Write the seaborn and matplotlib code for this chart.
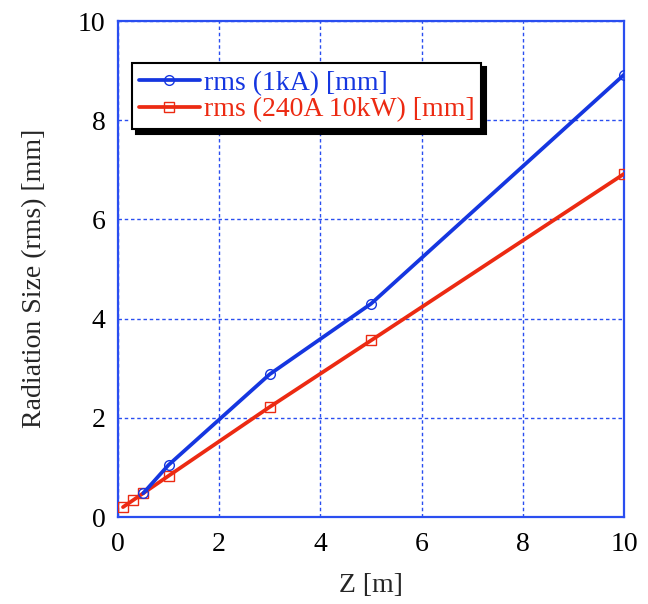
import matplotlib
matplotlib.use("Agg")
import matplotlib.pyplot as plt
import seaborn as sns
import pandas as pd

# Radiation size versus distance for two operating modes
z_1ka = [0.5, 1, 3, 5, 10]
rms_1ka = [0.48, 1.05, 2.88, 4.30, 8.92]

z_240a = [0.1, 0.3, 0.5, 1, 3, 5, 10]
rms_240a = [0.20, 0.34, 0.48, 0.83, 2.22, 3.56, 6.92]

label_1ka = "rms (1kA) [mm]"
label_240a = "rms (240A 10kW) [mm]"

x_ticks = [0, 2, 4, 6, 8, 10]
y_ticks = [0, 2, 4, 6, 8, 10]

blue = "#1536e0"
red = "#ec2a12"
grid_blue = "#2a4ef0"

sns.set_style("white")
plt.rcParams["font.family"] = ["Liberation Serif", "DejaVu Serif"]

fig = plt.figure(figsize=(6.48, 6.04), dpi=100)
ax = fig.add_axes([0.182, 0.144, 0.781, 0.821])

df_1ka = pd.DataFrame({"Z": z_1ka, "rms": rms_1ka})
df_240a = pd.DataFrame({"Z": z_240a, "rms": rms_240a})

sns.lineplot(data=df_240a, x="Z", y="rms", ax=ax, color=red, lw=2.7,
             marker="s", ms=7, mfc="none", mec=red, mew=1.0,
             label=label_240a, zorder=3)
sns.lineplot(data=df_1ka, x="Z", y="rms", ax=ax, color=blue, lw=2.7,
             marker="o", ms=7, mfc="none", mec=blue, mew=1.0,
             label=label_1ka, zorder=4)

ax.set_xlim(0, 10)
ax.set_ylim(0, 10)
ax.set_xticks(x_ticks)
ax.set_yticks(y_ticks)
ax.set_xticklabels([str(t) for t in x_ticks])
ax.set_yticklabels([str(t) for t in y_ticks])

ax.grid(True, color=grid_blue, linestyle=(0, (2.5, 2)), linewidth=1.0)
for side in ["left", "right", "top", "bottom"]:
    ax.spines[side].set_visible(True)
    ax.spines[side].set_color(grid_blue)
    ax.spines[side].set_linewidth(1.6)

ax.tick_params(axis="both", direction="in", length=7, width=1.2,
               color=grid_blue, labelsize=20, labelcolor="black")
ax.tick_params(axis="x", pad=11)
ax.tick_params(axis="y", pad=9)

ax.set_xlabel("Z [m]", fontsize=20, labelpad=11)
ax.set_ylabel("Radiation Size (rms) [mm]", fontsize=20)
ax.yaxis.set_label_coords(-0.140, 0.482)

handles, labels = ax.get_legend_handles_labels()
order = [labels.index(label_1ka), labels.index(label_240a)]
leg = ax.legend([handles[i] for i in order], [labels[i] for i in order],
                loc="upper left", bbox_to_anchor=(0.027, 0.915),
                fontsize=20, frameon=True, fancybox=False,
                shadow={"color": "black", "alpha": 1.0, "ox": 3, "oy": -3},
                edgecolor="black", framealpha=1.0, labelcolor="linecolor",
                handlelength=2.2, handletextpad=0.15, borderpad=0.25,
                labelspacing=0.05, borderaxespad=0)
leg.get_frame().set_linewidth(1.5)

fig.savefig("out.png", dpi=100)
